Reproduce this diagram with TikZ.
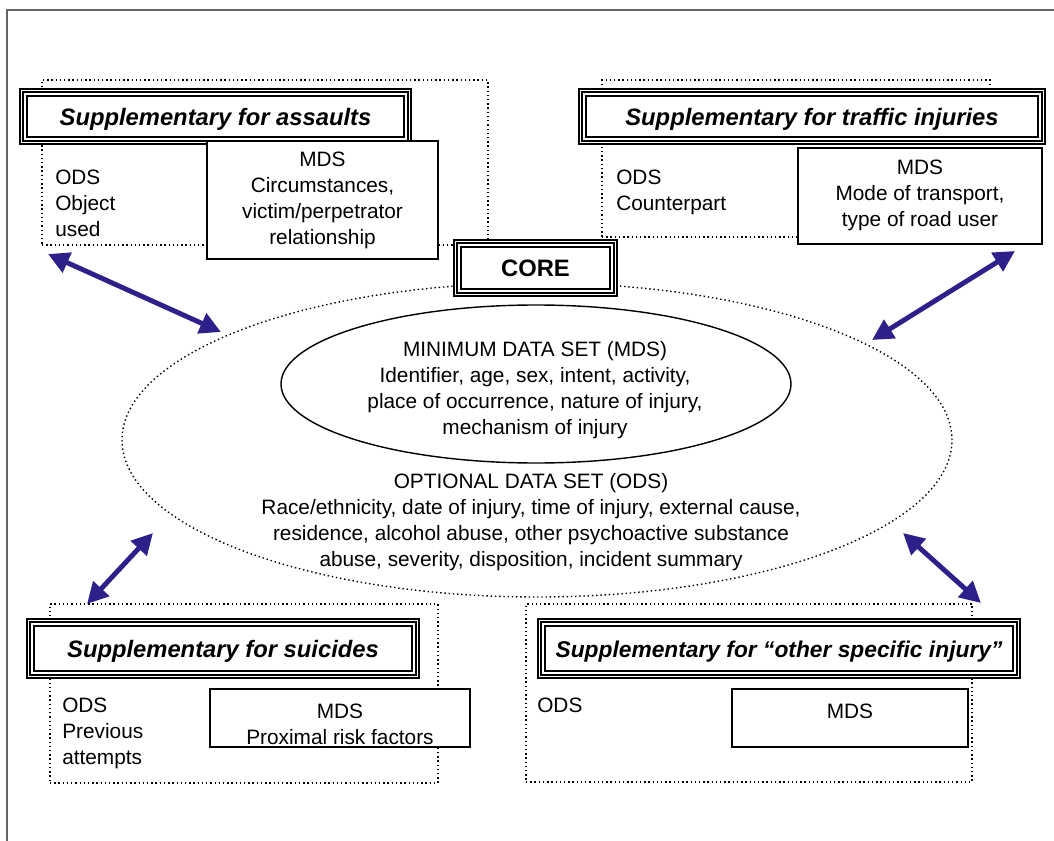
\documentclass[tikz,border=0pt]{standalone}
\usepackage{fontspec}
\setmainfont{Liberation Sans}
\usetikzlibrary{shapes.geometric,arrows.meta}
\definecolor{arrowblue}{RGB}{46,32,138}
\definecolor{framegray}{RGB}{100,100,100}
\newcommand\pxu{0.025cm}
\newcommand\txtfont{\fontsize{14.8}{18.5}\selectfont}
\newcommand\suppfont{\fontsize{16.9}{20}\selectfont\bfseries\itshape}

\begin{document}
\begin{tikzpicture}[%
    x=\pxu, y=-\pxu,          % one unit is one pixel of the layout
    every node/.style={inner sep=0pt},
    ]
% -------------------------------------------------
% Box styles
\tikzset{
  txt/.style={font=\txtfont, align=center},
  odstxt/.style={font=\txtfont, align=left, anchor=west},
  % dotted frame round each supplementary group
  group/.style={draw, dotted, line width=1pt, rectangle},
  % triple-lined title boxes
  supp/.style={draw, fill=white, rectangle, line width=0.9pt,
    double, double distance=1.1pt, font=\suppfont,
    text height=12.1pt, text depth=0pt,
    path picture={\draw[line width=1.1pt]
      ([shift={(4pt,4pt)}]path picture bounding box.south west) rectangle
      ([shift={(-4pt,-4pt)}]path picture bounding box.north east);}},
  mds/.style={draw, fill=white, rectangle, line width=1pt},
  % connector between core and supplementary
  link/.style={draw=arrowblue, line width=3.5pt,
    {Triangle[length=15pt,width=15pt]}-{Triangle[length=15pt,width=15pt]}},
}
\useasboundingbox (0,0) rectangle (1054,841);
% -------------------------------------------------
% Page frame
\draw[framegray, line width=1.3pt] (7,841) |- (1054,10);
% -------------------------------------------------
% Groups
\node [group, minimum width=446*\pxu, minimum height=165*\pxu] (gA) at (265,162.5) {};
\node [group, minimum width=388*\pxu, minimum height=157*\pxu] (gT) at (796,158.5) {};
\node [group, minimum width=388*\pxu, minimum height=179*\pxu] (gS) at (244,693.5) {};
\node [group, minimum width=446*\pxu, minimum height=178*\pxu] (gO) at (749,693) {};
% -------------------------------------------------
% Core
\node [ellipse, draw, dotted, line width=1pt, minimum width=830*\pxu, minimum height=314*\pxu] (ods) at (537,440) {};
\node [ellipse, draw, line width=1pt, minimum width=510*\pxu, minimum height=158*\pxu] (core) at (536,384) {};
\node [txt] (coremds) at (535,390) {MINIMUM DATA SET (MDS)\\Identifier, age, sex, intent, activity,\\place of occurrence, nature of injury,\\mechanism of injury};
\node [txt] (coreods) at (531,522) {OPTIONAL DATA SET (ODS)\\Race/ethnicity, date of injury, time of injury, external cause,\\residence, alcohol abuse, other psychoactive substance\\abuse, severity, disposition, incident summary};
\node [supp, font=\suppfont\upshape, minimum width=160*\pxu, minimum height=53*\pxu] (coret) at (535.5,268) {CORE};
% -------------------------------------------------
% Supplementary for assaults
\node [supp, minimum width=388*\pxu, minimum height=52*\pxu] (tA) at (215.5,116.5) {Supplementary for assaults};
\node [mds, minimum width=231*\pxu, minimum height=118*\pxu] (mA) at (322.5,200) {};
\node [txt] (mAt) at (322.5,200) {MDS\\Circumstances,\\victim/perpetrator\\relationship};
\node [odstxt] (oA) at (55,203) {ODS\\Object\\used};
% -------------------------------------------------
% Supplementary for traffic injuries
\node [supp, minimum width=463*\pxu, minimum height=52*\pxu] (tT) at (812,116.5) {Supplementary for traffic injuries};
\node [mds, minimum width=244*\pxu, minimum height=96*\pxu] (mT) at (920,196) {};
\node [txt] (mTt) at (920,195) {MDS\\Mode of transport,\\type of road user};
\node [odstxt] (oT) at (616,192) {ODS\\Counterpart};
% -------------------------------------------------
% Supplementary for suicides
\node [supp, minimum width=389*\pxu, minimum height=56*\pxu] (tS) at (223,648.5) {Supplementary for suicides};
\node [mds, minimum width=260*\pxu, minimum height=58*\pxu] (mS) at (340,718) {};
\node [txt] (mSt) at (340,724) {MDS\\Proximal risk factors};
\node [odstxt] (oS) at (62,733) {ODS\\Previous\\attempts};
% -------------------------------------------------
% Supplementary for other specific injury
\node [supp, font=\fontsize{16.2}{20}\selectfont\bfseries\itshape, minimum width=479*\pxu, minimum height=56*\pxu] (tO) at (779,648.5) {Supplementary for “other specific injury”};
\node [mds, minimum width=236*\pxu, minimum height=58*\pxu] (mO) at (850,718) {};
\node [txt] (mOt) at (850,711) {MDS};
\node [odstxt] (oO) at (537,705) {ODS};
% -------------------------------------------------
% Connector ends
\coordinate (eA) at (48,254);   \coordinate (cA) at (221,332);
\coordinate (eT) at (1015,251); \coordinate (cT) at (872,340);
\coordinate (eS) at (87,604);   \coordinate (cS) at (153,533);
\coordinate (eO) at (981,603);  \coordinate (cO) at (903,533);
\draw [link] (eA) -- (cA);
\draw [link] (eT) -- (cT);
\draw [link] (eS) -- (cS);
\draw [link] (eO) -- (cO);
\end{tikzpicture}
\end{document}
